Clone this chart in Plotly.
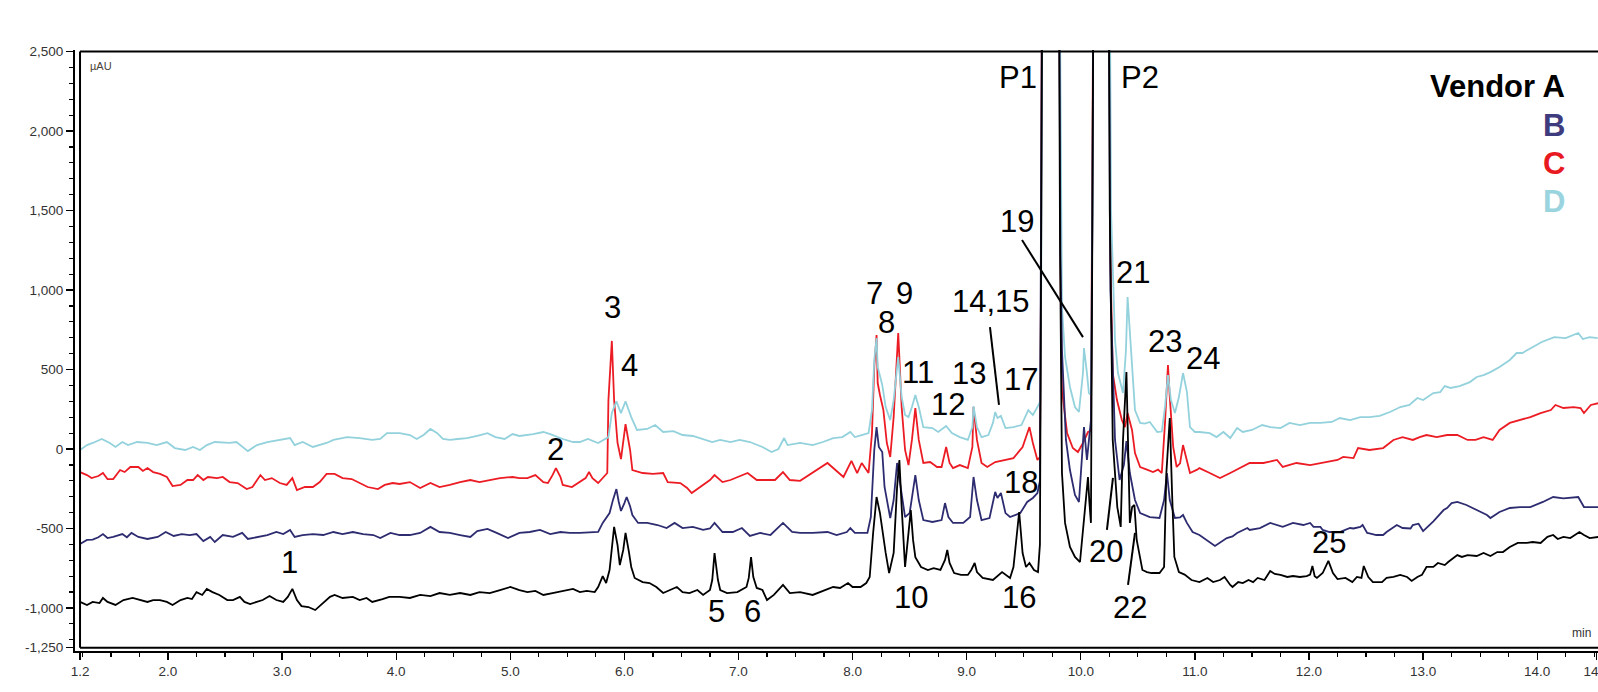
import plotly.graph_objects as go

# ---------------- data (time in min, signal in µAU) ----------------
trace_A = [(1.229,-962),(1.29,-981),(1.34,-962),(1.40,-969),(1.43,-937),(1.47,-962),(1.54,-981),(1.61,-950),(1.69,-937),(1.76,-950),(1.82,-962),(1.87,-950),(1.93,-950),(1.99,-962),(2.04,-981),(2.11,-950),(2.17,-937),(2.21,-944),(2.25,-900),(2.30,-918),(2.34,-880),(2.39,-900),(2.45,-918),(2.52,-950),(2.57,-950),(2.63,-930),(2.67,-962),(2.72,-975),(2.78,-962),(2.83,-950),(2.89,-925),(2.95,-950),(3.01,-962),(3.05,-930),(3.09,-880),(3.13,-950),(3.17,-988),(3.23,-994),(3.29,-1013),(3.35,-975),(3.42,-930),(3.46,-918),(3.53,-937),(3.62,-930),(3.68,-950),(3.74,-937),(3.79,-962),(3.88,-944),(3.94,-930),(4.03,-930),(4.12,-937),(4.21,-918),(4.30,-925),(4.38,-906),(4.47,-918),(4.56,-906),(4.65,-918),(4.73,-900),(4.82,-906),(4.91,-887),(5.00,-868),(5.08,-887),(5.15,-900),(5.22,-893),(5.29,-918),(5.37,-906),(5.46,-893),(5.55,-880),(5.61,-900),(5.67,-893),(5.74,-900),(5.77,-868),(5.81,-800),(5.84,-843),(5.87,-761),(5.91,-490),(5.94,-604),(5.96,-730),(5.99,-635),(6.01,-528),(6.04,-648),(6.06,-742),(6.09,-811),(6.16,-837),(6.22,-843),(6.28,-868),(6.34,-906),(6.40,-887),(6.46,-868),(6.51,-900),(6.57,-906),(6.64,-887),(6.69,-918),(6.75,-887),(6.77,-824),(6.79,-655),(6.82,-824),(6.84,-887),(6.90,-906),(6.99,-900),(7.07,-868),(7.09,-811),(7.11,-680),(7.13,-805),(7.16,-874),(7.21,-887),(7.25,-950),(7.31,-918),(7.39,-855),(7.45,-906),(7.54,-900),(7.65,-918),(7.71,-900),(7.83,-868),(7.89,-874),(7.96,-843),(8.00,-868),(8.07,-868),(8.12,-843),(8.15,-805),(8.18,-528),(8.21,-302),(8.24,-403),(8.26,-509),(8.29,-654),(8.32,-780),(8.36,-654),(8.39,-239),(8.41,-69),(8.43,-365),(8.46,-742),(8.49,-528),(8.51,-384),(8.53,-572),(8.55,-680),(8.60,-742),(8.66,-761),(8.71,-749),(8.77,-761),(8.81,-698),(8.83,-635),(8.85,-717),(8.89,-780),(8.95,-792),(9.01,-792),(9.04,-761),(9.07,-717),(9.09,-774),(9.14,-811),(9.23,-824),(9.31,-774),(9.38,-811),(9.41,-742),(9.46,-396),(9.49,-654),(9.52,-742),(9.55,-717),(9.59,-761),(9.625,-774),(9.642,-600),(9.651,1000),(9.66,3000),(9.73,15000),(9.809,3000),(9.818,1300),(9.835,-150),(9.862,-465),(9.905,-616),(9.949,-679),(9.993,-711),(10.045,-277),(10.063,-176),(10.075,-330),(10.089,-465),(10.102,1500),(10.11,3000),(10.18,15000),(10.245,3000),(10.254,1500),(10.28,57),(10.32,-365),(10.35,-490),(10.37,57),(10.40,484),(10.42,-50),(10.43,-465),(10.45,-365),(10.47,-352),(10.49,-572),(10.54,-761),(10.58,-774),(10.62,-780),(10.69,-780),(10.73,-742),(10.75,-151),(10.78,195),(10.80,-277),(10.82,-679),(10.86,-774),(10.91,-790),(10.97,-824),(11.04,-837),(11.11,-811),(11.16,-837),(11.22,-824),(11.26,-805),(11.31,-855),(11.33,-868),(11.38,-837),(11.42,-843),(11.47,-824),(11.51,-837),(11.55,-811),(11.61,-824),(11.66,-767),(11.70,-786),(11.75,-792),(11.81,-805),(11.86,-799),(11.92,-805),(11.98,-799),(12.01,-790),(12.03,-736),(12.05,-800),(12.07,-811),(12.12,-780),(12.17,-704),(12.21,-780),(12.25,-818),(12.32,-811),(12.38,-837),(12.42,-805),(12.46,-811),(12.48,-736),(12.52,-805),(12.56,-837),(12.64,-837),(12.68,-811),(12.74,-805),(12.80,-792),(12.86,-805),(12.90,-830),(12.95,-805),(12.99,-792),(13.03,-742),(13.09,-742),(13.13,-717),(13.19,-730),(13.22,-711),(13.30,-667),(13.34,-679),(13.39,-667),(13.47,-673),(13.53,-654),(13.59,-673),(13.65,-648),(13.70,-648),(13.76,-616),(13.83,-591),(13.91,-591),(13.96,-585),(14.03,-591),(14.09,-553),(14.14,-541),(14.18,-566),(14.23,-553),(14.29,-560),(14.37,-522),(14.41,-541),(14.46,-560),(14.54,-553)]

trace_B = [(1.229,-598),(1.29,-572),(1.34,-570),(1.39,-555),(1.43,-535),(1.47,-560),(1.52,-553),(1.60,-535),(1.64,-555),(1.68,-528),(1.74,-553),(1.82,-566),(1.91,-553),(1.98,-522),(2.05,-547),(2.12,-535),(2.19,-541),(2.25,-535),(2.31,-579),(2.37,-553),(2.41,-585),(2.48,-541),(2.57,-553),(2.65,-528),(2.70,-566),(2.78,-553),(2.87,-541),(2.95,-522),(3.01,-535),(3.07,-509),(3.11,-553),(3.18,-541),(3.27,-535),(3.36,-541),(3.45,-522),(3.53,-535),(3.62,-522),(3.71,-535),(3.80,-541),(3.86,-560),(3.95,-528),(4.03,-541),(4.12,-541),(4.21,-528),(4.30,-490),(4.38,-522),(4.47,-528),(4.56,-541),(4.65,-553),(4.71,-516),(4.80,-503),(4.88,-528),(4.98,-560),(5.08,-528),(5.17,-522),(5.26,-509),(5.35,-535),(5.44,-522),(5.52,-528),(5.61,-528),(5.70,-522),(5.77,-522),(5.81,-465),(5.87,-403),(5.90,-320),(5.93,-252),(5.95,-330),(5.97,-390),(6.00,-340),(6.02,-302),(6.05,-360),(6.07,-415),(6.12,-465),(6.20,-465),(6.29,-478),(6.37,-497),(6.44,-465),(6.51,-497),(6.60,-490),(6.69,-509),(6.75,-500),(6.79,-465),(6.86,-522),(6.95,-522),(7.03,-497),(7.10,-547),(7.19,-528),(7.28,-541),(7.39,-465),(7.47,-522),(7.54,-528),(7.65,-528),(7.78,-522),(7.86,-541),(7.95,-522),(7.98,-497),(8.02,-528),(8.13,-528),(8.16,-428),(8.19,-6),(8.21,138),(8.23,13),(8.26,-19),(8.28,-239),(8.33,-434),(8.36,-321),(8.39,-88),(8.42,-239),(8.46,-428),(8.50,-403),(8.55,-164),(8.58,-321),(8.62,-447),(8.70,-459),(8.78,-447),(8.81,-340),(8.84,-428),(8.88,-465),(8.97,-465),(9.03,-428),(9.06,-176),(9.09,-321),(9.13,-447),(9.20,-434),(9.23,-321),(9.25,-270),(9.27,-308),(9.30,-277),(9.34,-403),(9.38,-428),(9.47,-403),(9.53,-333),(9.58,-308),(9.62,-277),(9.642,-200),(9.651,1000),(9.66,3000),(9.73,15000),(9.81,3000),(9.822,1200),(9.835,623),(9.87,57),(9.905,-132),(9.949,-289),(9.984,-333),(10.01,-69),(10.028,138),(10.054,-69),(10.071,57),(10.089,182),(10.102,1500),(10.11,3000),(10.18,15000),(10.245,3000),(10.26,1000),(10.30,57),(10.34,-195),(10.378,-100),(10.40,50),(10.43,-151),(10.475,-321),(10.52,-403),(10.605,-428),(10.69,-434),(10.73,-321),(10.755,-151),(10.78,-321),(10.825,-434),(10.87,-430),(10.896,-415),(10.93,-465),(10.98,-522),(11.04,-541),(11.176,-610),(11.28,-560),(11.33,-550),(11.37,-528),(11.46,-497),(11.48,-509),(11.57,-497),(11.63,-478),(11.66,-465),(11.77,-490),(11.86,-465),(11.95,-478),(12.01,-465),(12.04,-490),(12.10,-490),(12.12,-509),(12.18,-522),(12.27,-522),(12.36,-497),(12.39,-500),(12.45,-490),(12.47,-478),(12.51,-528),(12.53,-530),(12.59,-541),(12.65,-541),(12.68,-522),(12.77,-478),(12.82,-497),(12.89,-500),(12.91,-478),(12.96,-470),(13.00,-516),(13.09,-455),(13.18,-384),(13.21,-371),(13.25,-340),(13.30,-333),(13.38,-352),(13.47,-384),(13.50,-396),(13.56,-415),(13.59,-434),(13.67,-396),(13.76,-371),(13.85,-365),(13.94,-365),(14.03,-340),(14.05,-333),(14.14,-302),(14.23,-310),(14.36,-302),(14.41,-365),(14.46,-365),(14.54,-365)]

trace_C = [(1.229,-145),(1.29,-164),(1.33,-183),(1.39,-170),(1.43,-151),(1.47,-189),(1.52,-189),(1.58,-132),(1.62,-145),(1.67,-113),(1.74,-113),(1.78,-138),(1.82,-120),(1.87,-145),(1.93,-157),(1.99,-176),(2.04,-233),(2.11,-226),(2.17,-195),(2.22,-195),(2.26,-164),(2.31,-195),(2.35,-176),(2.43,-183),(2.48,-176),(2.54,-208),(2.61,-214),(2.69,-252),(2.74,-239),(2.81,-164),(2.85,-195),(2.91,-183),(2.98,-214),(3.04,-226),(3.09,-183),(3.13,-258),(3.20,-239),(3.27,-239),(3.33,-208),(3.39,-157),(3.46,-157),(3.53,-183),(3.61,-189),(3.68,-214),(3.75,-239),(3.84,-252),(3.90,-226),(3.97,-214),(4.03,-220),(4.12,-208),(4.21,-245),(4.30,-214),(4.38,-239),(4.47,-226),(4.56,-208),(4.65,-195),(4.73,-208),(4.82,-195),(4.91,-183),(5.02,-176),(5.08,-183),(5.15,-183),(5.22,-164),(5.29,-208),(5.33,-214),(5.37,-164),(5.40,-120),(5.44,-176),(5.46,-226),(5.54,-239),(5.61,-208),(5.66,-183),(5.69,-145),(5.72,-183),(5.77,-214),(5.81,-183),(5.85,-151),(5.86,308),(5.89,680),(5.91,308),(5.94,38),(5.97,-63),(6.01,157),(6.05,-6),(6.07,-132),(6.16,-151),(6.25,-157),(6.34,-151),(6.38,-208),(6.49,-214),(6.55,-245),(6.59,-277),(6.66,-239),(6.75,-195),(6.79,-164),(6.86,-208),(6.93,-195),(7.00,-176),(7.08,-151),(7.16,-195),(7.25,-195),(7.32,-195),(7.39,-145),(7.45,-195),(7.54,-200),(7.65,-151),(7.78,-88),(7.85,-132),(7.92,-176),(7.99,-75),(8.04,-151),(8.08,-88),(8.14,-151),(8.17,100),(8.19,516),(8.21,717),(8.22,415),(8.24,340),(8.27,245),(8.30,38),(8.33,-50),(8.36,201),(8.40,730),(8.43,264),(8.46,-6),(8.49,-101),(8.52,57),(8.55,258),(8.58,57),(8.62,-88),(8.68,-82),(8.74,-113),(8.78,-113),(8.82,13),(8.85,-88),(8.88,-120),(8.94,-101),(9.01,-120),(9.05,13),(9.06,264),(9.09,57),(9.13,-88),(9.18,-113),(9.25,-82),(9.32,-69),(9.41,-57),(9.49,13),(9.55,138),(9.58,38),(9.62,-69),(9.642,-50),(9.651,1000),(9.66,3000),(9.73,15000),(9.812,3000),(9.824,1000),(9.835,371),(9.88,100),(9.93,6),(9.975,-19),(10.019,38),(10.063,107),(10.089,115),(10.102,1500),(10.11,3000),(10.18,15000),(10.25,3000),(10.26,1200),(10.28,478),(10.317,308),(10.36,182),(10.387,138),(10.41,226),(10.449,120),(10.475,-25),(10.52,-113),(10.58,-130),(10.633,-145),(10.677,-130),(10.71,-151),(10.738,164),(10.764,528),(10.78,327),(10.81,13),(10.84,-113),(10.87,-90),(10.896,25),(10.93,-69),(10.957,-151),(11.02,-130),(11.04,-120),(11.13,-151),(11.22,-183),(11.31,-151),(11.40,-120),(11.48,-88),(11.60,-88),(11.72,-69),(11.77,-113),(11.89,-88),(12.01,-101),(12.12,-88),(12.25,-69),(12.30,-50),(12.39,-57),(12.43,6),(12.53,-6),(12.65,6),(12.74,57),(12.82,75),(12.91,57),(12.97,75),(13.03,88),(13.12,75),(13.21,88),(13.30,88),(13.39,57),(13.46,57),(13.53,75),(13.61,57),(13.67,120),(13.76,164),(13.85,182),(13.94,201),(14.03,226),(14.12,245),(14.16,277),(14.23,258),(14.32,264),(14.38,258),(14.41,226),(14.47,277),(14.54,289)]

trace_D = [(1.229,-6),(1.29,25),(1.34,38),(1.42,63),(1.49,38),(1.54,13),(1.60,44),(1.65,25),(1.73,44),(1.82,38),(1.90,25),(1.99,44),(2.06,6),(2.15,-6),(2.22,13),(2.28,-6),(2.34,25),(2.41,44),(2.54,38),(2.60,44),(2.70,-13),(2.78,25),(2.87,44),(2.98,57),(3.07,69),(3.11,25),(3.18,44),(3.27,13),(3.39,38),(3.45,57),(3.57,75),(3.68,69),(3.79,57),(3.86,63),(3.92,100),(4.03,100),(4.12,88),(4.18,63),(4.24,88),(4.30,126),(4.36,100),(4.41,63),(4.47,57),(4.54,63),(4.62,69),(4.71,82),(4.80,100),(4.87,75),(4.95,63),(5.02,94),(5.08,82),(5.20,94),(5.29,107),(5.35,94),(5.46,63),(5.55,44),(5.61,44),(5.68,63),(5.77,38),(5.86,75),(5.89,226),(5.93,300),(5.97,226),(6.01,300),(6.06,201),(6.11,120),(6.20,126),(6.27,151),(6.34,107),(6.43,113),(6.51,88),(6.60,82),(6.69,63),(6.77,44),(6.84,57),(6.93,44),(7.01,57),(7.10,44),(7.21,13),(7.29,-19),(7.35,0),(7.40,69),(7.43,25),(7.54,38),(7.65,25),(7.74,44),(7.83,69),(7.91,75),(7.98,107),(8.02,75),(8.08,88),(8.14,100),(8.17,245),(8.19,560),(8.21,698),(8.22,516),(8.26,403),(8.29,264),(8.33,182),(8.36,308),(8.40,579),(8.43,327),(8.46,214),(8.49,201),(8.52,264),(8.55,340),(8.58,264),(8.62,138),(8.70,132),(8.75,107),(8.82,145),(8.87,100),(8.94,75),(9.01,57),(9.05,138),(9.06,270),(9.09,138),(9.13,75),(9.19,88),(9.23,164),(9.25,233),(9.27,195),(9.30,208),(9.34,132),(9.41,138),(9.48,151),(9.54,245),(9.58,214),(9.62,264),(9.645,300),(9.653,1000),(9.662,3000),(9.73,15000),(9.815,3000),(9.826,1300),(9.835,893),(9.862,579),(9.905,390),(9.949,264),(9.984,233),(10.019,478),(10.028,635),(10.054,478),(10.071,352),(10.089,340),(10.102,1500),(10.11,3000),(10.18,15000),(10.254,3000),(10.265,1500),(10.30,686),(10.326,478),(10.37,352),(10.396,623),(10.41,956),(10.44,623),(10.475,245),(10.52,164),(10.56,160),(10.605,170),(10.67,107),(10.71,110),(10.738,264),(10.764,465),(10.79,308),(10.825,226),(10.86,327),(10.896,478),(10.93,360),(10.957,138),(11.00,107),(11.04,107),(11.13,100),(11.19,75),(11.25,107),(11.31,69),(11.37,132),(11.42,107),(11.50,120),(11.59,151),(11.66,138),(11.75,132),(11.83,164),(11.92,151),(12.01,164),(12.10,164),(12.20,170),(12.27,195),(12.36,182),(12.45,201),(12.53,201),(12.62,208),(12.71,233),(12.80,264),(12.88,277),(12.95,321),(13.00,308),(13.09,352),(13.15,358),(13.19,396),(13.24,384),(13.32,396),(13.41,421),(13.47,453),(13.53,465),(13.59,484),(13.67,516),(13.76,560),(13.82,604),(13.87,604),(13.96,642),(14.04,673),(14.15,704),(14.25,698),(14.36,730),(14.40,692),(14.46,704),(14.53,698)]

vendors = ["Vendor A", "B", "C", "D"]

peak_labels = ["1", "2", "3", "4", "5", "6", "7", "8", "9", "10", "11", "12", "13", "14,15",
               "16", "17", "18", "19", "20", "21", "22", "23", "24", "25", "P1", "P2"]

y_tick_vals = [2500, 2000, 1500, 1000, 500, 0, -500, -1000, -1250]
y_tick_text = ["2,500", "2,000", "1,500", "1,000", "500", "0", "-500", "-1,000", "-1,250"]
x_tick_vals = [1.229, 2, 3, 4, 5, 6, 7, 8, 9, 10, 11, 12, 13, 14, 14.52]
x_tick_text = ["1.2", "2.0", "3.0", "4.0", "5.0", "6.0", "7.0", "8.0", "9.0", "10.0",
               "11.0", "12.0", "13.0", "14.0", "14.5"]

# ---------------- styling ----------------
FONT = "Liberation Sans, Arial, Helvetica, sans-serif"
colors = {"A": "#000000", "B": "#2e2c70", "C": "#ec1c24", "D": "#93d2dc"}
vendor_colors = ["#000000", "#3e3b7e", "#e8191f", "#9ad4de"]

fig = go.Figure()
for key, pts in [("C", trace_C), ("D", trace_D), ("B", trace_B), ("A", trace_A)]:
    fig.add_trace(go.Scatter(
        x=[p[0] for p in pts], y=[p[1] for p in pts], mode="lines",
        line=dict(color=colors[key], width=1.8), hoverinfo="skip", showlegend=False))

X0, X1 = 1.185, 14.533
Y0, Y1 = -1270.6, 2510

# label placements (layout)
label_pos = {
    "1": (3.069, -711), "2": (5.392, 0), "3": (5.900, 893), "4": (6.049, 528),
    "5": (6.803, -1025), "6": (7.127, -1025), "7": (8.188, 981), "8": (8.293, 799),
    "9": (8.451, 981), "10": (8.512, -937), "11": (8.573, 484), "12": (8.836, 277),
    "13": (9.02, 472), "14,15": (9.213, 931), "16": (9.459, -937), "17": (9.476, 440),
    "18": (9.476, -208), "19": (9.441, 1434), "20": (10.221, -642), "21": (10.458, 1113),
    "22": (10.431, -994), "23": (10.738, 679), "24": (11.071, 572), "25": (12.175, -591),
    "P1": (9.45, 2334), "P2": (10.519, 2334),
}
annotations = []
for lab in peak_labels:
    x, y = label_pos[lab]
    annotations.append(dict(x=x, y=y, xref="x", yref="y", text=lab, showarrow=False,
                            font=dict(family=FONT, size=31, color="black"),
                            xanchor="center", yanchor="middle"))

vendor_y = [2283, 2038, 1793, 1554]
for name, col, vy in zip(vendors, vendor_colors, vendor_y):
    annotations.append(dict(x=14.261, y=vy, xref="x", yref="y", text="<b>%s</b>" % name,
                            showarrow=False, xanchor="right", yanchor="middle",
                            font=dict(family=FONT, size=31, color=col)))

annotations.append(dict(x=1.299, y=2409, xref="x", yref="y", text="µAU", showarrow=False,
                        xanchor="left", yanchor="middle",
                        font=dict(family=FONT, size=11, color="#4a4238")))
annotations.append(dict(x=14.29, y=-1157, xref="x", yref="y", text="min", showarrow=False,
                        xanchor="left", yanchor="middle",
                        font=dict(family=FONT, size=12, color="#333333")))

shapes = []
# plot frame lines (inner frame)
shapes.append(dict(type="line", xref="x", yref="y", x0=1.229, x1=1.229, y0=-1250, y1=2500,
                   line=dict(color="black", width=2)))
shapes.append(dict(type="line", xref="x", yref="y", x0=1.229, x1=X1, y0=-1250, y1=-1250,
                   line=dict(color="black", width=2)))
shapes.append(dict(type="line", xref="x", yref="y", x0=1.229, x1=X1, y0=2500, y1=2500,
                   line=dict(color="black", width=2)))
# pointer lines
pointers = [((9.485, 1315), (10.019, 704)), ((9.204, 767), (9.283, 277)),
            ((10.282, -182), (10.229, -509)), ((10.475, -528), (10.414, -855))]
for (xa, ya), (xb, yb) in pointers:
    shapes.append(dict(type="line", xref="x", yref="y", x0=xa, y0=ya, x1=xb, y1=yb,
                       line=dict(color="black", width=2)))

y_minor = [v for v in range(-1200, 2500, 100) if v not in y_tick_vals]
x_minor = [round(1.25 + 0.25 * i, 2) for i in range(54) if 1.25 + 0.25 * i <= 14.52]
x_minor = [v for v in x_minor if abs(v - round(v)) > 1e-6]

fig.update_layout(
    width=1598, height=692,
    margin=dict(l=75, r=0, t=50, b=41, pad=0, autoexpand=False),
    paper_bgcolor="white", plot_bgcolor="white",
    showlegend=False,
    annotations=annotations, shapes=shapes,
    xaxis=dict(range=[X0, X1], automargin=False, showgrid=False, zeroline=False, showline=True,
               linecolor="black", linewidth=2, ticks="outside", ticklen=7, tickwidth=1.3,
               tickcolor="black", tickmode="array", tickvals=x_tick_vals, ticktext=x_tick_text,
               ticklabeloverflow="allow",
               tickfont=dict(family=FONT, size=13.5, color="#333333"),
               minor=dict(tickmode="array", tickvals=x_minor, ticks="outside", ticklen=4,
                          tickwidth=1.2, tickcolor="black", showgrid=False)),
    yaxis=dict(range=[Y0, Y1], automargin=False, showgrid=False, zeroline=False, showline=True,
               linecolor="black", linewidth=2, ticks="outside", ticklen=7, tickwidth=1.3,
               tickcolor="black", tickmode="array", tickvals=y_tick_vals, ticktext=y_tick_text,
               ticklabeloverflow="allow",
               tickfont=dict(family=FONT, size=13.5, color="#333333"),
               minor=dict(tickmode="array", tickvals=y_minor, ticks="outside", ticklen=4,
                          tickwidth=1.2, tickcolor="black", showgrid=False)),
)

# remove the browser's default 8px page margin so the figure sits at the window origin
fig.write_html("out.html",
               config={"displayModeBar": False, "staticPlot": True},
               post_script="document.body.style.margin='0';document.body.style.overflow='hidden';")
